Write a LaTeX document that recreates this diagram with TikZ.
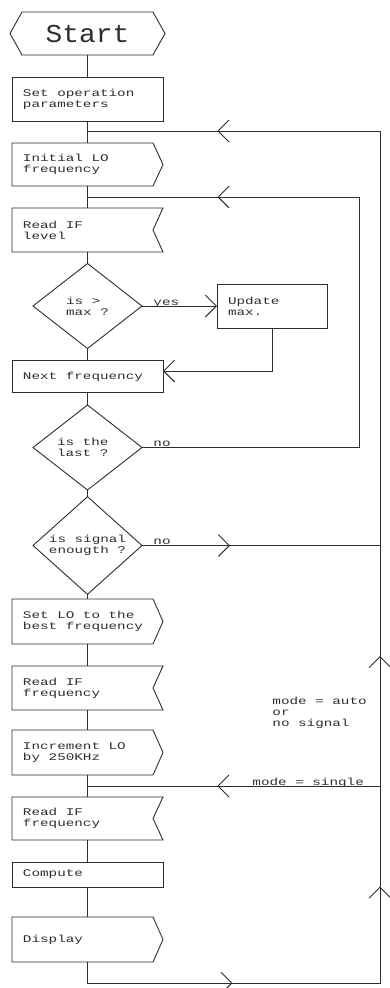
\documentclass[tikz,border=0pt]{standalone}
\usepackage{fontspec}
\usetikzlibrary{arrows.meta,shapes.geometric,decorations.markings}
\newfontfamily\plotfont[FakeStretch=1.4]{Liberation Mono}
\newfontfamily\startfont[FakeStretch=1.08]{Liberation Mono}
\newcommand\wl[2][129pt]{\makebox[#1][l]{#2}}
\definecolor{ink}{HTML}{2E2E2E}
\newcommand\pentout[1]{\draw[outline] (#1.north west) -- ([xshift=-10pt]#1.north east) -- (#1.east) -- ([xshift=-10pt]#1.south east) -- (#1.south west) -- cycle;}
\newcommand\notchout[1]{\draw[outline] (#1.north west) -- (#1.north east) -- ([xshift=-10pt]#1.east) -- (#1.south east) -- (#1.south west) -- cycle;}
\newcommand\hexout[1]{\draw[outline] ([xshift=12pt]#1.north west) -- ([xshift=-12pt]#1.north east) -- (#1.east) -- ([xshift=-12pt]#1.south east) -- ([xshift=12pt]#1.south west) -- (#1.west) -- cycle;}
\begin{document}
\begin{tikzpicture}[x=1pt,y=-1pt,
  line width=0.9pt, draw=ink, text=ink,
  font=\plotfont\fontsize{10.2}{11}\selectfont,
  >={Straight Barb[length=11pt,width=22pt]},
  outline/.style={draw=ink, line width=0.9pt},
  base/.style={rectangle, minimum width=151pt, inner xsep=11pt, inner ysep=0pt, outer sep=0pt, align=left},
  procbox/.style={base, draw},
  shapebox/.style={base, draw=none},
  decision/.style={diamond, draw, minimum width=109pt, minimum height=85pt, inner sep=0pt, outer sep=0pt, align=left},
  lbl/.style={inner sep=0pt, anchor=base west},
  tipat/.style={postaction={decorate, decoration={markings, mark=at position #1 with {\arrow{>}}}}}
]
\useasboundingbox (0,0) rectangle (389,988);
\fill[white] (0,0) rectangle (389,988);

% nodes
\node[shapebox, minimum width=155pt, inner xsep=0pt, minimum height=43pt, align=center,
      font=\startfont\fontsize{25.8}{28}\selectfont] (start) at (87.5,33.5) {Start};
\hexout{start}
\node[procbox, minimum height=44pt] (setop) at (87.5,99) {\wl{Set operation}\\parameters};
\node[shapebox, minimum height=43pt] (initlo) at (87.5,164.5) {\wl{Initial LO}\\frequency};
\pentout{initlo}
\node[shapebox, minimum height=44pt] (readif1) at (87.5,230) {\wl{Read IF}\\level};
\notchout{readif1}
\node[decision] (d1) at (87.5,306) {is >\\max ?};
\node[procbox, minimum width=110pt, minimum height=44pt] (upd) at (272,306) {\wl[88pt]{Update}\\max.};
\node[procbox, minimum height=32pt] (next) at (87.5,376.5) {\wl{Next frequency}};
\node[decision] (d2) at (87.5,447.5) {\wl[61pt]{is the}\\last ?};
\node[decision] (d3) at (87.5,545.5) {\wl[61pt]{is signal}\\enougth ?};
\node[shapebox, minimum height=45pt] (setbest) at (87.5,621.5) {\wl{Set LO to the}\\best frequency};
\pentout{setbest}
\node[shapebox, minimum height=44pt] (readif2) at (87.5,688) {\wl{Read IF}\\frequency};
\notchout{readif2}
\node[shapebox, minimum height=45pt] (inc) at (87.5,752.5) {\wl{Increment LO}\\by 250KHz};
\pentout{inc}
\node[shapebox, minimum height=43pt] (readif3) at (87.5,818.5) {\wl{Read IF}\\frequency};
\notchout{readif3}
\node[procbox, minimum height=25pt] (compute) at (87.5,874.5) {\wl{Compute}};
\node[shapebox, minimum height=45pt] (display) at (87.5,939.5) {\wl{Display}};
\pentout{display}

% labels
\node[lbl] (yes) at (153,305) {yes};
\node[lbl] (no2) at (153,446) {no};
\node[lbl] (no3) at (153,544) {no};
\node[lbl] (single) at (252,785) {mode = single};
\node[inner sep=0pt, anchor=north west, align=left] (auto) at (272,697) {mode = auto\\or\\no signal};

% junction coordinates
\coordinate (j1) at (87.5,131);
\coordinate (j2) at (87.5,197);
\coordinate (j3) at (87.5,786);
\coordinate (b1) at (87.5,983);
\coordinate (b2) at (380,983);
\coordinate (r0) at (380,131);
\coordinate (r1) at (380,786);
\coordinate (r2) at (380,545.5);
\coordinate (l0) at (359,197);
\coordinate (l1) at (359,447.5);
\coordinate (u1) at (272,371);

% main flow
\draw (start) -- (setop);
\draw (setop) -- (initlo);
\draw (initlo) -- (readif1);
\draw (readif1) -- (d1);
\draw (d1) -- (next);
\draw (next) -- (d2);
\draw (d2) -- (d3);
\draw (d3) -- (setbest);
\draw (setbest) -- (readif2);
\draw (readif2) -- (inc);
\draw (inc) -- (readif3);
\draw (readif3) -- (compute);
\draw (compute) -- (display);

% branches
\draw[->] (d1.east) -- (upd.west);
\draw[->] (upd.south) -- (u1) -- (u1 -| next.east);
\draw[tipat=609pt] (d2.east) -- (l1) -- (l0) -- (j2);
\draw[tipat=88pt] (d3.east) -- (r2);

% return loops
\draw[tipat=166pt, tipat=410pt] (display.south) -- (b1) -- (b2) -- (r1);
\draw[tipat=0.556] (r1) -- (j3);
\draw[tipat=130pt] (r1) -- (r0);
\draw[tipat=0.556] (r0) -- (j1);
\end{tikzpicture}
\end{document}
